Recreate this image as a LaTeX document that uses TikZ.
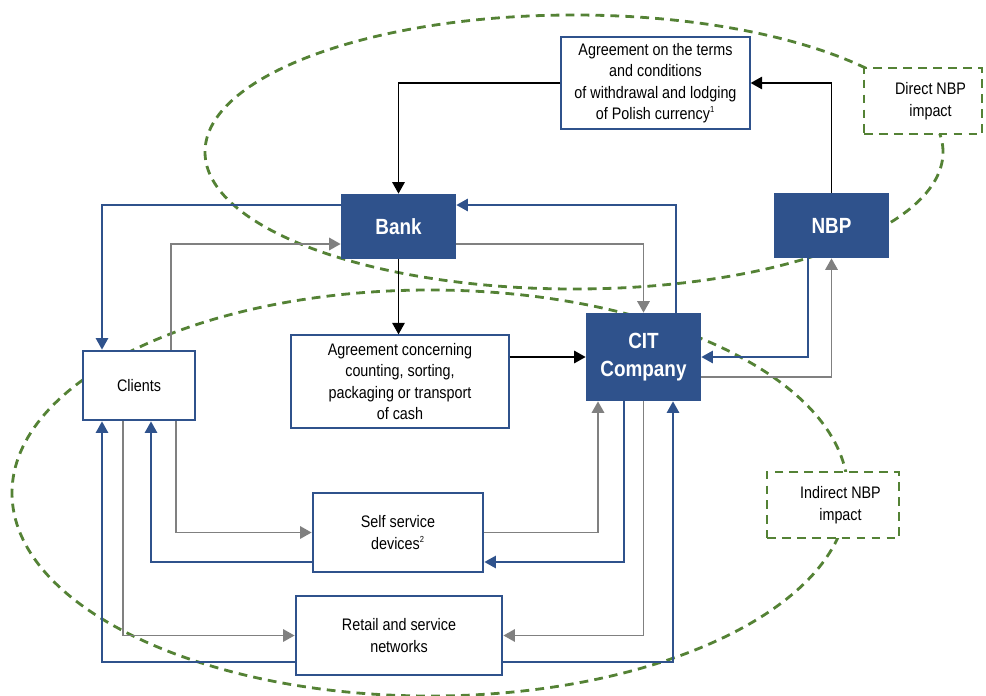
\documentclass[tikz,border=0pt]{standalone}
\usepackage{fontspec}
\setmainfont{Liberation Sans}[FakeStretch=0.86]
\usetikzlibrary{arrows.meta}
\definecolor{nbpblue}{RGB}{47,82,140}
\definecolor{nbpgreen}{RGB}{84,130,53}
\definecolor{nbpgray}{RGB}{128,128,128}

\begin{document}
\begin{tikzpicture}[>={Triangle[width=7pt,length=6.5pt]}]
		\tikzstyle{box}=[draw=nbpblue, line width=1.6pt, fill=white, align=center, font=\fontsize{9.5}{12.2}\selectfont]
		\tikzstyle{box_thin}=[box, line width=0.7pt]
		\tikzstyle{box_dark}=[fill=nbpblue, text=white, align=center, minimum width=2.3cm, font=\fontsize{12.5}{16}\selectfont\bfseries]
		\tikzstyle{impact_box}=[draw=nbpgreen, line width=1.6pt, dash pattern=on 5pt off 3.5pt, fill=white, align=center, font=\fontsize{9.5}{12.2}\selectfont]
		\tikzstyle{zone_line}=[draw=nbpgreen, line width=1.6pt, dash pattern=on 5pt off 3.5pt]
		\tikzstyle{link_black}=[line width=1pt, black]
		\tikzstyle{link_blue}=[line width=0.9pt, nbpblue]
		\tikzstyle{link_gray}=[line width=1.1pt, nbpgray]
		\useasboundingbox (0,0) rectangle (19.72,13.9);
		% zones of impact
		\draw[zone_line] (11.48,10.86) ellipse (7.38 and 2.74); % direct
		\draw[zone_line] (8.60,4.04) ellipse (8.36 and 4.06); % indirect
		\node[box_thin, minimum width=3.78cm, minimum height=1.84cm] (agr_top) at (13.11,12.24) {Agreement on the terms\\and conditions\\of withdrawal and lodging\\of Polish currency\textsuperscript{\tiny 1}};
		\node[impact_box, minimum width=2.36cm, minimum height=1.32cm] (direct) at (18.46,11.88) {\hspace*{0.3cm}Direct NBP\\\hspace*{0.3cm}impact};
		\node[box_dark, minimum height=1.3cm] (bank) at (7.97,9.37) {Bank};
		\node[box_dark, minimum height=1.3cm] (nbp) at (16.63,9.39) {NBP};
		\node[box, minimum width=2.24cm, minimum height=1.38cm] (clients) at (2.78,6.19) {Clients};
		\node[box_thin, minimum width=4.36cm, minimum height=1.86cm] (agr_cit) at (8.00,6.27) {Agreement concerning\\counting, sorting,\\packaging or transport\\of cash};
		\node[box_dark, minimum height=1.76cm] (cit) at (12.87,6.76) {CIT\\Company};
		\node[impact_box, minimum width=2.64cm, minimum height=1.32cm] (indirect) at (16.66,3.80) {\hspace*{0.3cm}Indirect NBP\\\hspace*{0.3cm}impact};
		\node[box, minimum width=3.4cm, minimum height=1.58cm] (self) at (7.96,3.25) {Self service\\devices\textsuperscript{\tiny 2}};
		\node[box, minimum width=4.12cm, minimum height=1.58cm] (retail) at (7.98,1.19) {Retail and service\\networks};
		% agreements
		\draw[link_black,->] (agr_top.west) -| (bank.north);
		\draw[link_black,->] (nbp.north) |- (agr_top.east);
		\draw[link_black,->] (bank.south) -- (bank.south |- agr_cit.north);
		\draw[link_black,->] (agr_cit.east |- cit.west) -- (cit.west);
		% upper flows
		\draw[link_blue,->] ([yshift=0.43cm]bank.west) -| ([xshift=-0.74cm]clients.north);
		\draw[link_blue,->] ([xshift=0.65cm]cit.north) |- ([yshift=0.43cm]bank.east);
		\draw[link_gray,->] ([xshift=0.64cm]clients.north) |- ([yshift=-0.35cm]bank.west);
		\draw[link_gray,->] ([yshift=-0.35cm]bank.east) -| (cit.north);
		\draw[link_blue,->] ([xshift=-0.47cm]nbp.south) |- (cit.east);
		\draw[link_gray,->] ([yshift=-0.40cm]cit.east) -| (nbp.south);
		% lower flows
		\draw[link_gray,->] ([xshift=0.74cm]clients.south) |- (self.west);
		\draw[link_blue,->] ([yshift=-0.59cm]self.west) -| ([xshift=0.24cm]clients.south);
		\draw[link_gray,->] ([xshift=-0.32cm]clients.south) |- (retail.west);
		\draw[link_blue,->] ([yshift=-0.53cm]retail.west) -| ([xshift=-0.74cm]clients.south);
		\draw[link_gray,->] (self.east) -| ([xshift=-0.91cm]cit.south);
		\draw[link_blue,->] ([xshift=-0.39cm]cit.south) |- ([yshift=-0.59cm]self.east);
		\draw[link_gray,->] (cit.south) |- (retail.east);
		\draw[link_blue,->] ([yshift=-0.53cm]retail.east) -| ([xshift=0.59cm]cit.south);
	\end{tikzpicture}
\end{document}
